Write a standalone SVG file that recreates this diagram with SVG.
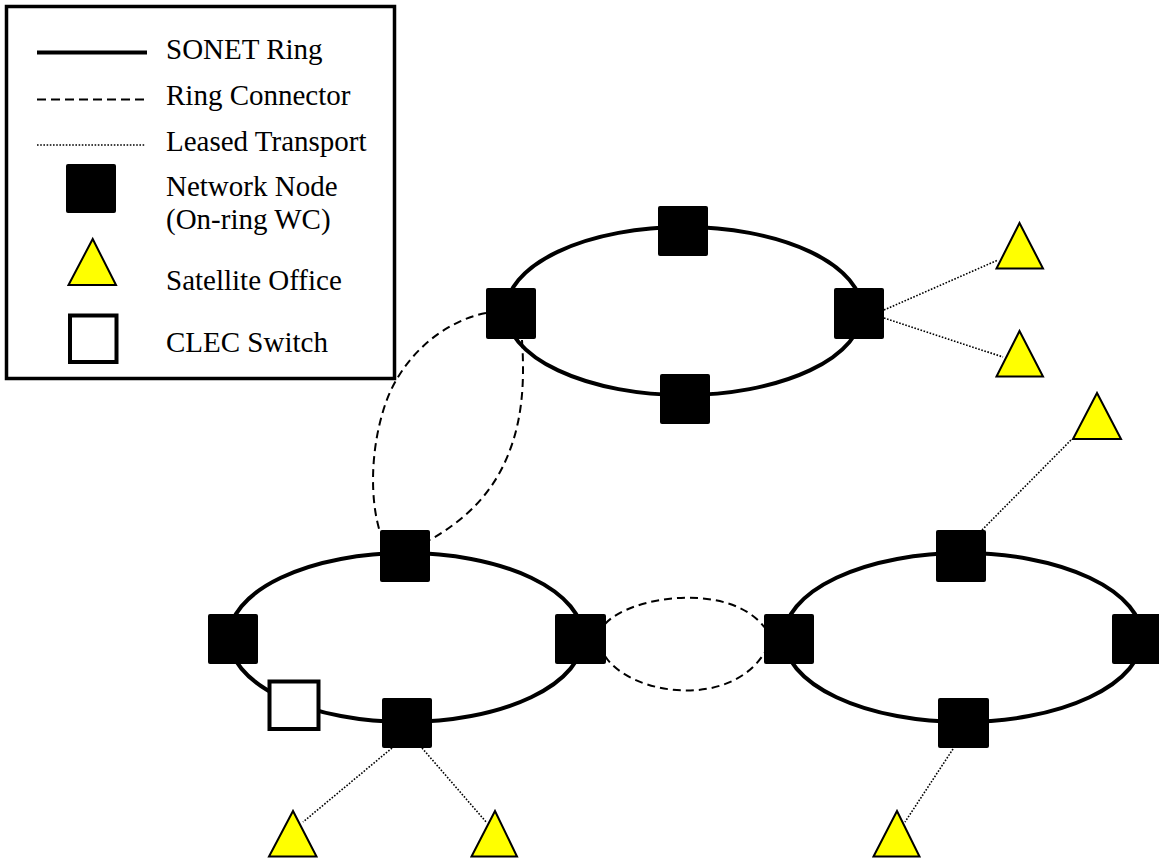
<svg xmlns="http://www.w3.org/2000/svg" width="1159" height="860" viewBox="0 0 1159 860">
<style>
.ring{fill:none;stroke:#000;stroke-width:4}
.dash{fill:none;stroke:#000;stroke-width:2;stroke-dasharray:8 5}
.dot{fill:none;stroke:#000;stroke-width:1.6;stroke-dasharray:1.6 1.6}
.node{fill:#000}
.clec{fill:#fff;stroke:#000;stroke-width:4}
.sat{fill:#ffff00;stroke:#000;stroke-width:2;stroke-linejoin:miter}
.lbl{font-family:"Liberation Serif","Times New Roman",serif;font-size:29px;fill:#000}
</style>
<rect width="1159" height="860" fill="#fff"/>

<g id="legend">
<rect x="6.5" y="6.5" width="388" height="372" fill="#fff" stroke="#000" stroke-width="3.5"/>
<line x1="37" y1="52.5" x2="147" y2="52.5" stroke="#000" stroke-width="4"/>
<text class="lbl" x="166" y="59">SONET Ring</text>
<line x1="37" y1="99.5" x2="146" y2="99.5" stroke="#000" stroke-width="2" stroke-dasharray="9 5"/>
<text class="lbl" x="166" y="104.5">Ring Connector</text>
<line x1="37" y1="145" x2="145" y2="145" class="dot"/>
<text class="lbl" x="166" y="150.5">Leased Transport</text>
<rect x="66" y="164" width="50" height="49" rx="2" class="node"/>
<text class="lbl" x="166" y="196">Network Node</text>
<text class="lbl" x="166" y="229">(On-ring WC)</text>
<polygon points="92.7,239 68.5,285 116,285" class="sat"/>
<text class="lbl" x="166" y="290">Satellite Office</text>
<rect x="70" y="315.5" width="46.5" height="46.5" class="clec"/>
<text class="lbl" x="166" y="352">CLEC Switch</text>
</g>

<g id="rings">
<ellipse id="ring-top" cx="684" cy="311" rx="178" ry="84" class="ring"/>
<ellipse id="ring-left" cx="406" cy="637.5" rx="177" ry="84.5" class="ring"/>
<ellipse id="ring-right" cx="963" cy="637.5" rx="179" ry="84.5" class="ring"/>
</g>

<g id="connectors">
<path class="dash" d="M486,313 C440,322 400,360 385,405 C370,450 370,500 380,532"/>
<path class="dash" d="M522,340 C525,385 522,425 505,462 C490,495 465,520 430,540"/>
<path class="dash" d="M605,624 C630,596 730,581 765,628"/>
<path class="dash" d="M605,656 C630,695 730,710 765,652"/>
<line class="dot" x1="884" y1="310" x2="998" y2="260"/>
<line class="dot" x1="884" y1="318" x2="1003" y2="357"/>
<line class="dot" x1="982" y1="530" x2="1072" y2="439"/>
<line class="dot" x1="953" y1="749" x2="905" y2="822"/>
<line class="dot" x1="392" y1="748" x2="303" y2="822"/>
<line class="dot" x1="422" y1="748" x2="487" y2="823"/>
</g>

<g id="n-top-top"><rect x="658" y="206" width="50" height="50" rx="2" class="node"/></g>
<g id="n-top-left"><rect x="486" y="288" width="50" height="51" rx="2" class="node"/></g>
<g id="n-top-right"><rect x="834" y="288" width="50" height="51" rx="2" class="node"/></g>
<g id="n-top-bottom"><rect x="660" y="374" width="50" height="50" rx="2" class="node"/></g>

<g id="n-left-top"><rect x="380" y="530" width="50" height="52" rx="2" class="node"/></g>
<g id="n-left-left"><rect x="208" y="614" width="50" height="50" rx="2" class="node"/></g>
<g id="n-left-right"><rect x="555" y="614" width="51" height="50" rx="2" class="node"/></g>
<g id="n-left-bottom"><rect x="382" y="698" width="50" height="50" rx="2" class="node"/></g>
<g id="clec"><rect x="269.5" y="681.5" width="49" height="47.5" class="clec"/></g>

<g id="n-right-top"><rect x="936" y="530" width="50" height="52" rx="2" class="node"/></g>
<g id="n-right-left"><rect x="764" y="614" width="50" height="50" rx="2" class="node"/></g>
<g id="n-right-right"><rect x="1112" y="614" width="50" height="50" rx="2" class="node"/></g>
<g id="n-right-bottom"><rect x="938" y="698" width="51" height="50" rx="2" class="node"/></g>

<g id="sat-1"><polygon points="1019.5,223 996.5,268.5 1043,268.5" class="sat"/></g>
<g id="sat-2"><polygon points="1019.5,331 996.5,376.5 1043,376.5" class="sat"/></g>
<g id="sat-3"><polygon points="1097,393 1073,439 1121,439" class="sat"/></g>
<g id="sat-4"><polygon points="897,811 873.5,856.5 919.5,856.5" class="sat"/></g>
<g id="sat-5"><polygon points="293,811 269,856.5 316.5,856.5" class="sat"/></g>
<g id="sat-6"><polygon points="495,811 471.5,856.5 517,856.5" class="sat"/></g>
</svg>
